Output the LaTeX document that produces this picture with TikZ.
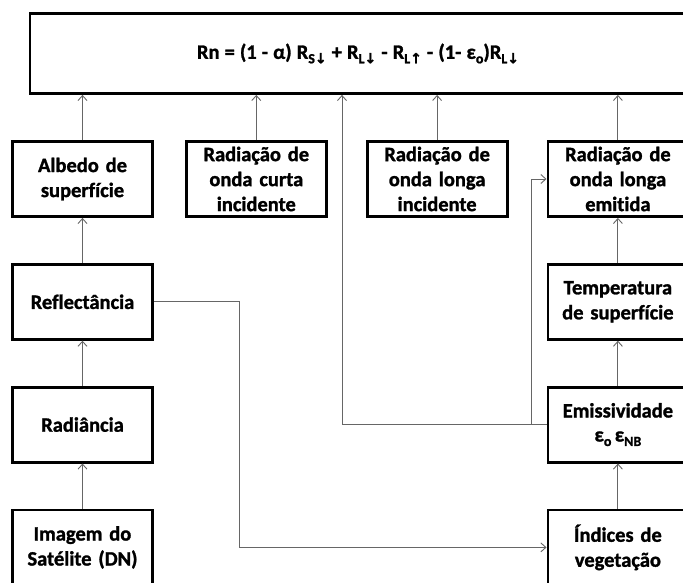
\documentclass[tikz,border=0pt]{standalone}
\usepackage{fontspec}
\setmainfont{Carlito}[Ligatures=NoCommon, WordSpace=0.55,
                      BoldFeatures={FakeBold=1.3}]
\newfontfamily\eqfont{Carlito}[Ligatures=NoCommon, WordSpace=1.1,
                               BoldFeatures={FakeBold=1.3}]
\newfontfamily\arrowfont{DejaVu Sans}[BoldFeatures={FakeBold=1.5}]
\usepackage{tikz}
\usetikzlibrary{positioning, arrows.meta}
\newcommand{\lowsub}[1]{\raisebox{-0.45ex}{\fontsize{14}{14}\selectfont\bfseries #1}}
\newcommand{\dnarr}{{\arrowfont\bfseries\fontsize{14}{14}\selectfont ↓}}
\newcommand{\uparr}{{\arrowfont\bfseries\fontsize{14}{14}\selectfont ↑}}
\tikzset{
  box/.style={rectangle, draw=black, line width=2.8pt, fill=white,
              minimum width=140pt, minimum height=75pt, text width=136pt,
              inner xsep=2pt, align=center,
              font=\fontsize{20.5}{25}\selectfont\bfseries},
  topbox/.style={rectangle, draw=black, line width=2.8pt, fill=white,
                 minimum width=656pt, minimum height=80pt, align=center,
                 font=\eqfont\fontsize{20.5}{25}\selectfont\bfseries},
  arr/.style={-{Straight Barb[length=5pt,width=9pt]}, line width=0.9pt, color=black!60},
}
\begin{document}
\begin{tikzpicture}[x=1pt, y=-1pt, node distance=45pt and 38pt]
    \useasboundingbox (0,0) rectangle (683,583);
    \node[topbox] (rn) at (358,53.5)
          {Rn = (1 - α) R\lowsub{S\dnarr} + R\lowsub{L\dnarr} - R\lowsub{L\uparr} - (1- ε\lowsub{o})R\lowsub{L\dnarr}};
    \node[box] (alb) at (82.5,179) {Albedo de\\superfície};
    \node[box, right=31pt of alb] (curta) {Radiação de\\onda curta\\incidente};
    \node[box, right=of curta] (longa) {Radiação de\\onda longa\\incidente};
    \node[box, right=of longa] (emit) {Radiação de\\onda longa\\emitida};
    \node[box, below=of alb] (refl) {Reflectância};
    \node[box, below=of refl] (rad) {Radiância};
    \node[box, below=of rad] (img) {Imagem do\\Satélite (DN)};
    \node[box, below=of emit] (temp) {Temperatura\\de superfície};
    \node[box, below=of temp] (emis) {Emissividade\\[-1pt]ε\lowsub{o}\,ε\lowsub{NB}\\[4pt]};
    \node[box, below=of emis] (ndvi) {Índices de\\vegetação};
    \coordinate (rx) at (239,0);
    \coordinate (ex) at (342,0);
    \coordinate (bx) at (531,0);
    % into the balance
    \draw[arr] (alb.north) -- (alb.north |- rn.south);
    \draw[arr] (curta.north) -- (curta.north |- rn.south);
    \draw[arr] (longa.north) -- (longa.north |- rn.south);
    \draw[arr] (emit.north) -- (emit.north |- rn.south);
    % left chain
    \draw[arr] (img) -- (rad);
    \draw[arr] (rad) -- (refl);
    \draw[arr] (refl) -- (alb);
    % right chain
    \draw[arr] (ndvi) -- (emis);
    \draw[arr] (emis) -- (temp);
    \draw[arr] (temp) -- (emit);
    % crossing links
    \draw[arr] (refl.east) -- (refl.east -| rx) |- (ndvi.west);
    \draw[arr] (emis.west) -| (ex |- rn.south);
    \draw[arr] (bx |- emis.west) |- (emit.west);
\end{tikzpicture}
\end{document}
